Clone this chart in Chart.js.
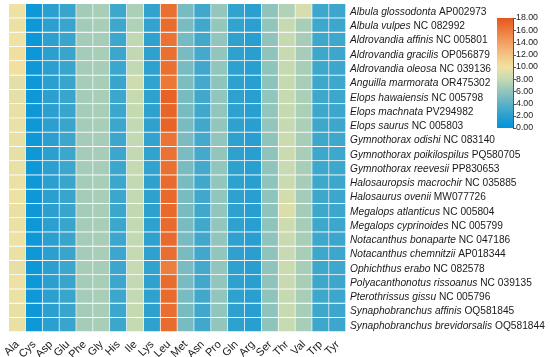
<!DOCTYPE html>
<html>
<head>
  <meta charset="utf-8">
  <script src="https://cdn.jsdelivr.net/npm/chart.js@4.4.1/dist/chart.umd.min.js"></script>
  <style>
    body { margin: 0; background: #fff; }
  </style>
</head>
<body>
<canvas id="heat" width="550" height="357"></canvas>

<script>
var aminoAcids = ['Ala', 'Cys', 'Asp', 'Glu', 'Phe', 'Gly', 'His', 'Ile', 'Lys', 'Leu',
                  'Met', 'Asn', 'Pro', 'Gln', 'Arg', 'Ser', 'Thr', 'Val', 'Trp', 'Tyr'];

var species = ['Albula glossodonta', 'Albula vulpes', 'Aldrovandia affinis', 'Aldrovandia gracilis',
               'Aldrovandia oleosa', 'Anguilla marmorata', 'Elops hawaiensis', 'Elops machnata',
               'Elops saurus', 'Gymnothorax odishi', 'Gymnothorax poikilospilus', 'Gymnothorax reevesii',
               'Halosauropsis macrochir', 'Halosaurus ovenii', 'Megalops atlanticus', 'Megalops cyprinoides',
               'Notacanthus bonaparte', 'Notacanthus chemnitzii', 'Ophichthus erabo',
               'Polyacanthonotus rissoanus', 'Pterothrissus gissu', 'Synaphobranchus affinis',
               'Synaphobranchus brevidorsalis'];

var accessions = ['AP002973', 'NC 082992', 'NC 005801', 'OP056879', 'NC 039136', 'OR475302',
                  'NC 005798', 'PV294982', 'NC 005803', 'NC 083140', 'PQ580705', 'PP830653',
                  'NC 035885', 'MW077726', 'NC 005804', 'NC 005799', 'NC 047186', 'AP018344',
                  'NC 082578', 'NC 039135', 'NC 005796', 'OQ581845', 'OQ581844'];

// amino acid usage (%), one row per species, columns in aminoAcids order
var usage = [
  [9.8, 0.7, 2.0, 2.6, 6.6, 6.9, 2.8, 7.0, 2.3, 16.6, 5.0, 2.9, 6.1, 2.3, 2.0, 5.9, 7.2, 8.8, 2.8, 2.7],
  [9.7, 0.7, 2.0, 2.6, 6.6, 6.9, 2.8, 7.1, 2.3, 16.8, 5.0, 2.9, 6.1, 2.3, 2.0, 6.0, 8.0, 6.9, 2.8, 2.7],
  [9.9, 0.6, 2.1, 2.6, 6.7, 6.8, 2.7, 7.8, 2.2, 16.5, 4.9, 2.9, 6.0, 2.2, 1.9, 5.9, 8.0, 6.8, 2.8, 2.8],
  [10.2, 0.6, 2.0, 2.6, 6.7, 6.9, 2.7, 7.8, 2.2, 16.6, 5.0, 3.0, 6.0, 2.2, 1.9, 5.9, 8.1, 6.8, 2.8, 2.7],
  [10.1, 0.7, 2.0, 2.6, 6.7, 6.8, 2.7, 7.9, 2.2, 16.6, 5.0, 2.9, 6.0, 2.2, 1.9, 5.9, 8.0, 6.9, 2.8, 2.7],
  [9.3, 0.7, 2.0, 2.6, 6.8, 6.9, 2.6, 8.4, 2.3, 16.2, 5.2, 3.0, 5.9, 2.2, 1.9, 5.8, 8.0, 6.9, 2.8, 2.8],
  [9.4, 0.7, 2.0, 2.6, 6.7, 6.9, 2.7, 8.0, 2.2, 17.4, 5.0, 2.9, 6.0, 2.2, 1.9, 6.0, 8.0, 7.0, 2.8, 2.7],
  [9.6, 0.7, 2.0, 2.6, 6.7, 6.9, 2.7, 8.0, 2.2, 17.2, 5.0, 2.9, 6.0, 2.2, 1.9, 6.0, 8.0, 7.0, 2.8, 2.7],
  [9.7, 0.7, 2.0, 2.6, 6.7, 6.9, 2.7, 7.9, 2.2, 17.3, 5.0, 2.9, 6.0, 2.2, 1.9, 6.0, 8.0, 7.0, 2.8, 2.7],
  [9.6, 0.7, 2.0, 2.7, 6.7, 6.8, 2.7, 7.9, 2.3, 16.4, 5.1, 3.0, 6.0, 2.2, 1.9, 5.9, 8.2, 6.9, 2.8, 2.8],
  [9.5, 0.7, 2.0, 2.7, 6.7, 6.8, 2.7, 7.9, 2.3, 16.5, 5.1, 3.0, 6.0, 2.2, 1.9, 5.9, 8.2, 6.9, 2.8, 2.8],
  [9.6, 0.7, 2.0, 2.7, 6.7, 6.8, 2.7, 8.0, 2.3, 16.6, 5.0, 3.0, 6.0, 2.2, 1.9, 5.9, 8.1, 6.9, 2.8, 2.8],
  [9.7, 0.7, 2.0, 2.6, 6.7, 6.9, 2.7, 7.9, 2.2, 16.9, 5.0, 2.9, 6.0, 2.2, 1.9, 5.9, 8.2, 6.8, 2.8, 2.7],
  [9.8, 0.7, 2.0, 2.6, 6.7, 6.9, 2.7, 7.9, 2.2, 17.0, 5.0, 2.9, 6.0, 2.2, 1.9, 5.9, 8.6, 6.7, 2.8, 2.7],
  [9.6, 0.7, 2.0, 2.6, 6.7, 6.9, 2.7, 7.8, 2.2, 17.0, 5.0, 2.9, 6.0, 2.2, 1.9, 5.9, 9.0, 6.7, 2.8, 2.7],
  [9.7, 0.7, 2.0, 2.6, 6.7, 6.9, 2.7, 7.9, 2.2, 16.9, 5.0, 2.9, 6.0, 2.2, 1.9, 5.9, 8.3, 6.8, 2.8, 2.7],
  [9.8, 0.7, 2.0, 2.6, 6.7, 6.9, 2.7, 7.9, 2.2, 16.9, 5.0, 2.9, 6.0, 2.2, 1.9, 5.9, 8.1, 6.9, 2.8, 2.7],
  [9.7, 0.7, 2.0, 2.6, 6.7, 6.9, 2.7, 8.0, 2.2, 16.7, 5.0, 2.9, 6.0, 2.2, 1.9, 5.9, 8.1, 6.9, 2.8, 2.7],
  [9.5, 0.7, 2.0, 2.7, 6.8, 6.8, 2.7, 8.1, 2.3, 15.8, 5.1, 3.0, 6.0, 2.2, 1.9, 5.9, 8.2, 6.9, 2.8, 2.8],
  [9.8, 0.7, 2.0, 2.6, 6.7, 6.9, 2.7, 7.9, 2.2, 16.8, 5.0, 2.9, 6.0, 2.2, 1.9, 5.9, 8.1, 6.9, 2.8, 2.7],
  [9.7, 0.7, 2.0, 2.6, 6.7, 6.9, 2.7, 7.9, 2.2, 16.9, 5.0, 2.9, 6.0, 2.2, 1.9, 5.9, 8.0, 6.9, 2.8, 2.7],
  [9.6, 0.7, 2.0, 2.6, 6.7, 6.9, 2.7, 8.0, 2.2, 16.7, 5.0, 2.9, 6.0, 2.2, 1.9, 5.9, 8.1, 6.9, 2.8, 2.7],
  [9.6, 0.7, 2.0, 2.6, 6.7, 6.9, 2.7, 8.0, 2.2, 16.8, 5.0, 2.9, 6.0, 2.2, 1.9, 5.9, 8.1, 6.9, 2.8, 2.7]
];

// colour scale
var scaleValues = [0, 2, 4, 6, 8, 10, 12, 14, 16, 18];
var scaleColors = ['#0094dc', '#2a9fd0', '#5db2c6', '#92c5bc', '#c6dab2',
                   '#f1e2a2', '#f4c383', '#f1a062', '#eb7b3c', '#e6561c'];
var scaleLabels = ['0.00', '2.00', '4.00', '6.00', '8.00', '10.00', '12.00', '14.00', '16.00', '18.00'];

function hexToRgb(h) {
  return [parseInt(h.substr(1, 2), 16), parseInt(h.substr(3, 2), 16), parseInt(h.substr(5, 2), 16)];
}

function colorFor(v) {
  var n = scaleValues.length;
  if (v <= scaleValues[0]) return scaleColors[0];
  if (v >= scaleValues[n - 1]) return scaleColors[n - 1];
  for (var i = 0; i < n - 1; i++) {
    if (v <= scaleValues[i + 1]) {
      var t = (v - scaleValues[i]) / (scaleValues[i + 1] - scaleValues[i]);
      var a = hexToRgb(scaleColors[i]), b = hexToRgb(scaleColors[i + 1]);
      return 'rgb(' + Math.round(a[0] + (b[0] - a[0]) * t) + ',' +
                      Math.round(a[1] + (b[1] - a[1]) * t) + ',' +
                      Math.round(a[2] + (b[2] - a[2]) * t) + ')';
    }
  }
}

// each species is one stacked row of unit-height cells
var datasets = species.map(function(name, i) {
  return {
    label: name,
    data: aminoAcids.map(function() { return 1; }),
    backgroundColor: usage[i].map(colorFor),
    borderColor: '#ffffff',
    borderWidth: { top: 0, left: 0, right: 1, bottom: 1 },
    borderSkipped: false,
    barPercentage: 1,
    categoryPercentage: 1
  };
});

var FONT = "'Liberation Sans', Arial, sans-serif";

var speciesLabels = {
  id: 'speciesLabels',
  afterDraw: function(chart) {
    var ctx = chart.ctx, y = chart.scales.y, x0 = chart.chartArea.right + 4;
    ctx.save();
    ctx.fillStyle = '#1a1a1a';
    ctx.textBaseline = 'middle';
    ctx.textAlign = 'left';
    species.forEach(function(name, i) {
      var py = y.getPixelForValue(i + 0.5) + 1;
      ctx.font = 'italic 10.2px ' + FONT;
      ctx.fillText(name, x0, py);
      var w = ctx.measureText(name + ' ').width;
      ctx.font = '10.2px ' + FONT;
      ctx.fillText(accessions[i], x0 + w, py);
    });
    ctx.restore();
  }
};

var colorBar = {
  id: 'colorBar',
  afterDraw: function(chart) {
    var ctx = chart.ctx;
    var left = 497, width = 16, top = 18, bottom = 128;
    var n = scaleValues.length, vmax = scaleValues[n - 1];
    ctx.save();
    var g = ctx.createLinearGradient(0, bottom, 0, top);
    for (var i = 0; i < n; i++) g.addColorStop(scaleValues[i] / vmax, scaleColors[i]);
    ctx.fillStyle = g;
    ctx.fillRect(left, top, width, bottom - top);
    ctx.strokeStyle = '#555';
    ctx.lineWidth = 1;
    ctx.beginPath();
    ctx.moveTo(left + width + 0.5, top);
    ctx.lineTo(left + width + 0.5, bottom);
    ctx.stroke();
    ctx.font = '8.8px ' + FONT;
    ctx.fillStyle = '#222';
    ctx.textBaseline = 'middle';
    ctx.textAlign = 'left';
    for (var j = 0; j < n; j++) {
      var py = bottom - (scaleValues[j] / vmax) * (bottom - top);
      ctx.beginPath();
      ctx.moveTo(left + width, Math.round(py) + 0.5);
      ctx.lineTo(left + width + 3, Math.round(py) + 0.5);
      ctx.stroke();
      ctx.fillText(scaleLabels[j], left + width + 3, py);
    }
    ctx.restore();
  }
};

var ctx = document.getElementById('heat').getContext('2d');
var chart = new Chart(ctx, {
  type: 'bar',
  data: { labels: aminoAcids, datasets: datasets },
  options: {
    responsive: false,
    animation: false,
    layout: { padding: { left: 4, top: 4, right: 0, bottom: 0 } },
    plugins: {
      legend: { display: false },
      tooltip: { enabled: false }
    },
    scales: {
      x: {
        stacked: true,
        grid: { display: false, drawTicks: false },
        border: { display: false },
        ticks: {
          minRotation: 45,
          maxRotation: 45,
          autoSkip: false,
          padding: 6,
          color: '#1a1a1a',
          font: { family: FONT, size: 11 }
        },
        afterFit: function(s) { s.height = 25; }
      },
      y: {
        stacked: true,
        min: 0,
        max: 23,
        reverse: true,
        position: 'right',
        grid: { display: false, drawTicks: false },
        border: { display: false },
        ticks: { display: false },
        afterFit: function(s) { s.width = 204; }
      }
    }
  },
  plugins: [speciesLabels, colorBar]
});
</script>
</body>
</html>
